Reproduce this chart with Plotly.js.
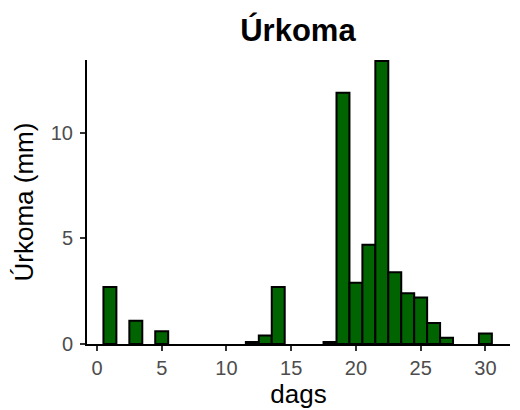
<!DOCTYPE html>
<html><head><meta charset="utf-8">
<script src="https://cdn.plot.ly/plotly-3.0.1.min.js"></script>
<style>body{margin:0;background:#fff}#chart{width:520px;height:410px}</style>
</head><body><div id="chart"></div>
<script>
const days = [1, 3, 5, 12, 13, 14, 18, 19, 20, 21, 22, 23, 24, 25, 26, 27, 30];
const rain = [2.7, 1.1, 0.6, 0.1, 0.4, 2.7, 0.1, 11.9, 2.9, 4.7, 13.4, 3.4, 2.4, 2.2, 1.0, 0.3, 0.5];
const xTicks = [0, 5, 10, 15, 20, 25, 30];
const yTicks = [0, 5, 10];

const trace = {
  type: 'bar', x: days, y: rain, width: 1,
  marker: {color: '#006400', line: {color: '#000000', width: 2}},
  hoverinfo: 'x+y'
};
const font = 'Liberation Sans, Arial, sans-serif';
const layout = {
  width: 520, height: 410,
  margin: {l: 87, r: 10, t: 60, b: 66},
  paper_bgcolor: '#fff', plot_bgcolor: '#fff',
  showlegend: false,
  title: {text: '<b>Úrkoma</b>', font: {family: font, size: 31, color: '#000'},
          x: 0.573, xanchor: 'center', y: 1 - 30/410, yanchor: 'middle', yref: 'container'},
  xaxis: {range: [-0.77, 31.9], tickvals: xTicks, ticktext: xTicks.map(String),
          showgrid: false, zeroline: false, showline: true, linecolor: '#000', linewidth: 2,
          ticks: 'outside', ticklen: 5, tickwidth: 2, tickcolor: '#333',
          tickfont: {family: font, size: 20, color: '#4d4d4d'},
          title: {text: 'dags', font: {family: font, size: 26, color: '#000'}, standoff: 6}},
  yaxis: {range: [0, 13.45], tickvals: yTicks, ticktext: yTicks.map(String),
          showgrid: false, zeroline: false, showline: true, linecolor: '#000', linewidth: 2,
          ticks: 'outside', ticklen: 5, tickwidth: 2, tickcolor: '#333',
          ticklabelstandoff: 3,
          tickfont: {family: font, size: 20, color: '#4d4d4d'},
          title: {text: 'Úrkoma (mm)', font: {family: font, size: 26, color: '#000'}, standoff: 10}},
  bargap: 0
};
Plotly.newPlot('chart', [trace], layout, {displayModeBar: false, staticPlot: true});
</script></body></html>
